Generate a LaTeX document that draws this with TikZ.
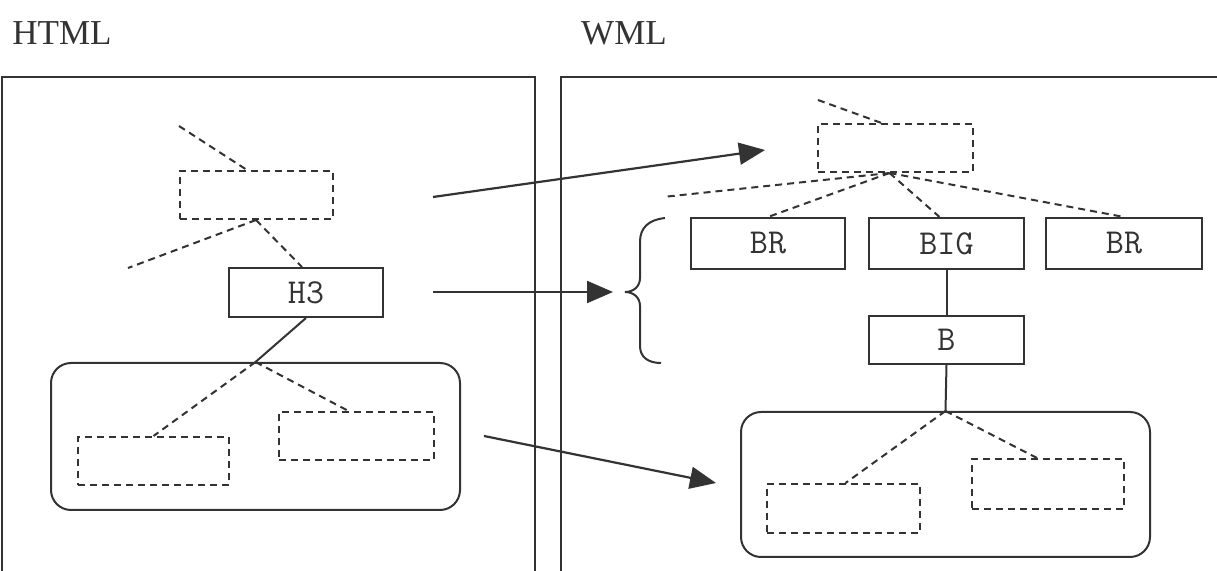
\documentclass[tikz,border=0pt]{standalone}
\usepackage{fontspec}
\setmainfont{Liberation Serif}
\usetikzlibrary{arrows.meta}
\definecolor{ink}{gray}{0.2}
\tikzset{
  panel/.style={draw=ink, line width=1.1pt},
  solidbox/.style={draw=ink, line width=1pt, rectangle, inner sep=0pt, font=\ttfamily\fontsize{17.5}{20}\selectfont, text=ink},
  dashbox/.style={draw=ink, line width=1pt, rectangle, inner sep=0pt, dash pattern=on 3.5pt off 2.5pt},
  groupbox/.style={draw=ink, line width=1pt, rectangle, rounded corners=10pt, inner sep=0pt},
  dline/.style={draw=ink, line width=1pt, dash pattern=on 3.5pt off 2.5pt},
  sline/.style={draw=ink, line width=1pt},
  bigarrow/.style={draw=ink, line width=1.1pt, -{Triangle[length=13pt, width=11pt]}},
  title/.style={font=\fontsize{17.5}{20}\selectfont, text=ink}
}
\begin{document}
\begin{tikzpicture}[x=0.5pt, y=-0.5pt]
\clip (0,0) rectangle (1217,571);
\fill[white] (0,0) rectangle (1217,571);

% titles
\node[title] (thtml) at (62,33) {HTML};
\node[title] (twml) at (624,33) {WML};

% panels
\draw[panel] (2,620) -- (2,77) -- (535,77) -- (535,620);
\draw[panel] (561,620) -- (561,77) -- (1240,77);

% ---------------- left panel ----------------
\node[dashbox, minimum width=76.5pt, minimum height=24pt] (Ldash) at (256,195) {};
\node[solidbox, minimum width=77pt, minimum height=24.5pt] (H3) at (306,292.5) {H3};
\node[groupbox, minimum width=204.5pt, minimum height=73.5pt] (Lround) at (255.5,436.5) {};
\node[dashbox, minimum width=75.5pt, minimum height=24pt] (Ld1) at (153.5,461) {};
\node[dashbox, minimum width=77.5pt, minimum height=24pt] (Ld2) at (356.5,436) {};

\coordinate (la) at (179,126);
\coordinate (lb) at (128,268);
\path[dline] (la) -- ([xshift=-4.5pt]Ldash.north);
\path[dline] (Ldash.south) -- (lb);
\path[dline] (Ldash.south) -- ([xshift=-2pt]H3.north);
\path[sline] (H3.south) -- (Lround.north);
\path[dline] (Lround.north) -- (Ld1.north);
\path[dline] (Lround.north) -- ([xshift=-4pt]Ld2.north);

% ---------------- right panel ----------------
\node[dashbox, minimum width=77.5pt, minimum height=24pt] (Rdash) at (895.5,148) {};
\node[solidbox, minimum width=77pt, minimum height=25.5pt] (BR1) at (768,243.5) {BR};
\node[solidbox, minimum width=77.5pt, minimum height=25.5pt] (BIG) at (946.5,243.5) {BIG};
\node[solidbox, minimum width=78pt, minimum height=25.5pt] (BR2) at (1124,243.5) {BR};
\node[solidbox, minimum width=77.5pt, minimum height=24pt] (B) at (946.5,340) {B};
\node[groupbox, minimum width=204.5pt, minimum height=72.5pt] (Rround) at (945.5,484.5) {};
\node[dashbox, minimum width=76.5pt, minimum height=24.5pt] (Rd1) at (843.5,508.5) {};
\node[dashbox, minimum width=76pt, minimum height=25pt] (Rd2) at (1048,484) {};

\coordinate (ra) at (818,100);
\coordinate (rl) at (663,197);
\path[dline] (ra) -- ([xshift=-7pt]Rdash.north);
\path[dline] ([xshift=-3pt]Rdash.south) -- (rl);
\path[dline] ([xshift=-3pt]Rdash.south) -- (BR1.north);
\path[dline] ([xshift=-3pt]Rdash.south) -- ([xshift=-3.5pt]BIG.north);
\path[dline] ([xshift=-3pt]Rdash.south) -- (BR2.north);
\path[sline] (BIG.south) -- (B.north);
\path[sline] (B.south) -- (Rround.north);
\path[dline] (Rround.north) -- ([xshift=1pt]Rd1.north);
\path[dline] (Rround.north) -- ([xshift=-5.5pt]Rd2.north);

% brace
\coordinate (btip) at (625,292);
\draw[ink, line width=1pt] (665,218) .. controls (648,220) and (640,228) .. (640,242)
  -- (640,278) .. controls (640,287) and (633,292) .. (btip)
  .. controls (633,292) and (640,297) .. (640,306)
  -- (640,346) .. controls (640,357) and (648,363) .. (661,363);

% arrows
\coordinate (a1s) at (433,197);
\coordinate (a1e) at (765,150);
\coordinate (a2s) at (433,292);
\coordinate (a3s) at (484,436);
\coordinate (a3e) at (716,483);
\draw[bigarrow] (a1s) -- (a1e);
\draw[bigarrow] (a2s) -- ([xshift=-6pt]btip);
\draw[bigarrow] (a3s) -- (a3e);
\end{tikzpicture}
\end{document}
